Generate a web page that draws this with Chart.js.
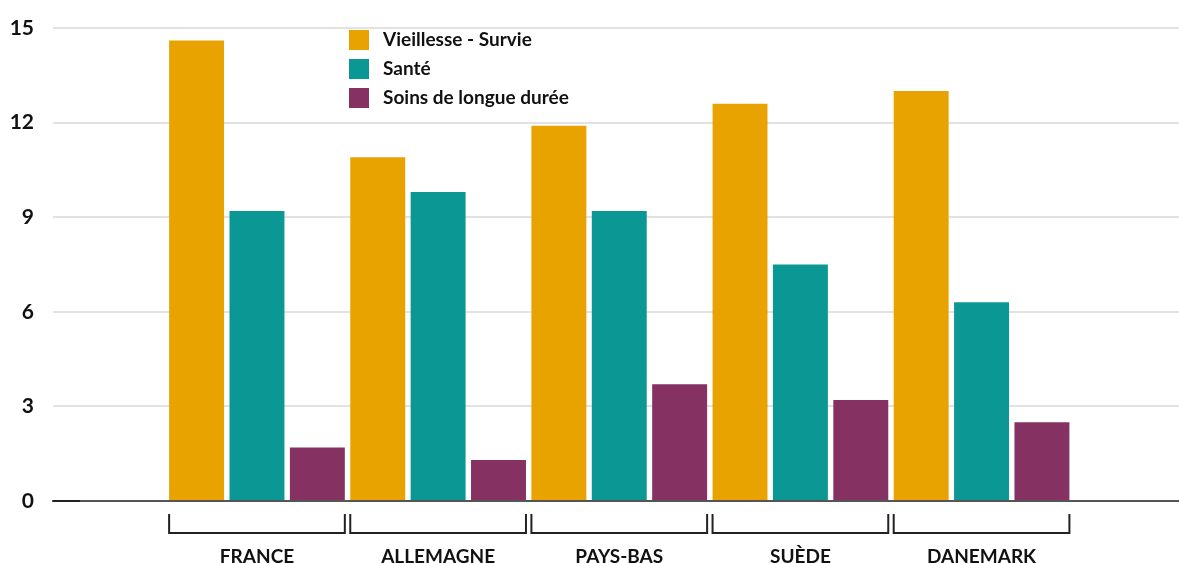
<!DOCTYPE html>
<html>
<head>
<meta charset="utf-8">
<script src="https://cdn.jsdelivr.net/npm/chart.js@4"></script>
<style>
    body { margin: 0; background: #fff; }
    canvas { display: block; }
</style>
</head>
<body>
<canvas id="chart" width="1179" height="563"></canvas>
<script>
const countries = ["FRANCE", "ALLEMAGNE", "PAYS-BAS", "SUÈDE", "DANEMARK"];
const seriesNames = ["Vieillesse - Survie", "Santé", "Soins de longue durée"];
const vieillesse = [14.6, 10.9, 11.9, 12.6, 13.0];
const sante = [9.2, 9.8, 9.2, 7.5, 6.3];
const soins = [1.7, 1.3, 3.7, 3.2, 2.5];
const yTicks = [0, 3, 6, 9, 12, 15];
const colors = ["#e8a300", "#0b9794", "#853262"];

const FONT = "Lato, 'Open Sans', sans-serif";

function points(values) {
    return values.map((v, i) => ({ x: i, y: v }));
}

// légende verticale dessinée dans la zone du graphique
const legendPlugin = {
    id: "sideLegend",
    afterDraw(chart) {
        const ctx = chart.ctx;
        ctx.save();
        ctx.font = "bold 19px " + FONT;
        ctx.textBaseline = "middle";
        chart.data.datasets.forEach((ds, i) => {
            const y = 30 + i * 29;
            ctx.fillStyle = ds.backgroundColor;
            ctx.fillRect(349, y, 20, 20);
            ctx.fillStyle = "#111";
            ctx.fillText(ds.label, 383, y + 10);
        });
        ctx.restore();
    }
};

// accolades sous chaque groupe de barres
const bracketPlugin = {
    id: "brackets",
    afterDraw(chart) {
        const ctx = chart.ctx;
        const area = chart.chartArea;
        const first = chart.getDatasetMeta(0).data;
        const last = chart.getDatasetMeta(chart.data.datasets.length - 1).data;
        ctx.save();
        ctx.strokeStyle = "#222";
        ctx.lineWidth = 2;
        // petit trait épais au départ de l'axe
        const y0 = chart.scales.y.getPixelForValue(0);
        ctx.beginPath();
        ctx.moveTo(area.left, y0);
        ctx.lineTo(area.left + 27, y0);
        ctx.stroke();
        first.forEach((bar, i) => {
            const l = bar.x - bar.width / 2;
            const r = last[i].x + last[i].width / 2;
            ctx.beginPath();
            ctx.moveTo(l, area.bottom + 13);
            ctx.lineTo(l, area.bottom + 32);
            ctx.lineTo(r, area.bottom + 32);
            ctx.lineTo(r, area.bottom + 13);
            ctx.stroke();
        });
        ctx.restore();
    }
};

new Chart(document.getElementById("chart"), {
    type: "bar",
    data: {
        datasets: [
            { label: seriesNames[0], data: points(vieillesse), backgroundColor: colors[0] },
            { label: seriesNames[1], data: points(sante), backgroundColor: colors[1] },
            { label: seriesNames[2], data: points(soins), backgroundColor: colors[2] }
        ]
    },
    options: {
        responsive: false,
        animation: false,
        categoryPercentage: 1.0,
        barPercentage: 0.91,
        layout: { padding: { top: 28, right: 0, bottom: 0, left: 0 } },
        plugins: {
            legend: { display: false },
            tooltip: { enabled: false }
        },
        scales: {
            x: {
                type: "linear",
                offset: false,
                min: -1.126,
                max: 5.09,
                afterBuildTicks: (scale) => {
                    scale.ticks = countries.map((_, i) => ({ value: i }));
                },
                afterFit: (scale) => {
                    scale.height = 62;
                    scale.paddingLeft = 0;
                    scale.paddingRight = 0;
                },
                grid: { display: false, drawTicks: false },
                border: { display: true, color: "#555", width: 2 },
                ticks: {
                    padding: 44,
                    autoSkip: false,
                    maxRotation: 0,
                    color: "#111",
                    font: { family: FONT, size: 19, weight: "bold" },
                    callback: (value) => countries[value]
                }
            },
            y: {
                min: 0,
                max: 15,
                afterBuildTicks: (scale) => {
                    scale.ticks = yTicks.map((v) => ({ value: v }));
                },
                afterFit: (scale) => {
                    scale.width = 53;
                    scale.paddingTop = 0;
                    scale.paddingBottom = 0;
                },
                grid: {
                    drawTicks: false,
                    lineWidth: 2,
                    color: (c) => c.tick.value === 0 ? "rgba(0,0,0,0)" : "#e2e2e2"
                },
                border: { display: false },
                ticks: {
                    padding: 19,
                    color: "#111",
                    font: { family: FONT, size: 21, weight: "bold" }
                }
            }
        }
    },
    plugins: [legendPlugin, bracketPlugin]
});
</script>
</body>
</html>
